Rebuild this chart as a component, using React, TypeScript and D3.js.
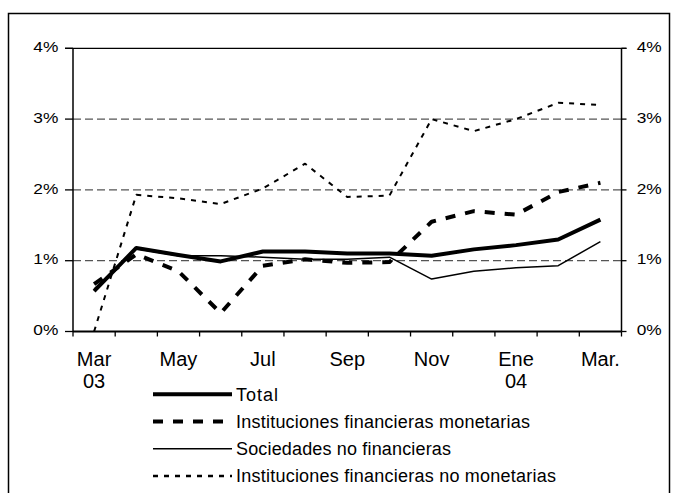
import React from 'react';
import * as d3 from 'd3';

// months, March 2003 to March 2004
const months = ['Mar03', 'Abr03', 'May03', 'Jun03', 'Jul03', 'Ago03', 'Sep03', 'Oct03', 'Nov03', 'Dic03', 'Ene04', 'Feb04', 'Mar04'];
const labelTop = ['Mar', '', 'May', '', 'Jul', '', 'Sep', '', 'Nov', '', 'Ene', '', 'Mar.'];
const labelBottom = ['03', '', '', '', '', '', '', '', '', '', '04', '', ''];

const total = [0.57, 1.18, 1.08, 0.99, 1.13, 1.13, 1.1, 1.1, 1.07, 1.16, 1.22, 1.3, 1.58];
const monetarias = [0.67, 1.09, 0.85, 0.26, 0.93, 1.02, 0.97, 0.98, 1.55, 1.7, 1.65, 1.97, 2.1];
const sociedades = [0.6, 1.17, 1.07, 1.07, 1.05, 1.02, 1.02, 1.05, 0.74, 0.85, 0.9, 0.93, 1.27];
const noMonetarias = [0.0, 1.93, 1.88, 1.8, 2.02, 2.37, 1.9, 1.92, 3.0, 2.83, 3.0, 3.23, 3.2];

const yTicks = [0, 1, 2, 3, 4];
const gridTicks = [1, 2, 3];

const seriesNames = [
  'Total',
  'Instituciones financieras monetarias',
  'Sociedades no financieras',
  'Instituciones financieras no monetarias',
];

const font = '"Liberation Sans", Arial, sans-serif';

export default function App() {
  const left = 73;
  const right = 621.5;
  const top = 48.3;
  const bottom = 331.5;

  const x = d3.scaleBand<string>().domain(months).range([left, right]).padding(0);
  const y = d3.scaleLinear().domain([0, 4]).range([bottom, top]);
  const cx = (i: number) => (x(months[i]) as number) + x.bandwidth() / 2;

  const line = d3
    .line<number>()
    .x((_, i) => cx(i))
    .y((d) => y(d));

  const series = [
    { values: total, width: 4, dash: undefined as string | undefined, textLen: 42 },
    { values: monetarias, width: 4, dash: '10,10', textLen: 294 },
    { values: sociedades, width: 1.5, dash: undefined as string | undefined, textLen: 215 },
    { values: noMonetarias, width: 2, dash: '5,6', textLen: 320 },
  ];

  const legendY = [394.3, 421.5, 448.8, 476];

  return (
    <svg width={673} height={493} style={{ position: 'absolute', left: 0, top: 0, background: '#fff' }} fontFamily={font}>
      <rect x={8.5} y={13.5} width={661} height={500} fill="none" stroke="#000" strokeWidth={1.5} />

      {/* gridlines */}
      {gridTicks.map((t) => (
        <line key={'g' + t} x1={left} x2={right} y1={y(t)} y2={y(t)} stroke="#555" strokeWidth={1.3} strokeDasharray="8,4" />
      ))}
      <line x1={left - 8} x2={right + 5} y1={y(4)} y2={y(4)} stroke="#000" strokeWidth={1.3} />

      {/* y axes */}
      <line x1={left} x2={left} y1={top} y2={bottom} stroke="#000" strokeWidth={1.5} />
      <line x1={right} x2={right} y1={top} y2={bottom} stroke="#000" strokeWidth={1.5} />
      {yTicks.map((t) => (
        <g key={'y' + t}>
          <line x1={left - 8} x2={left} y1={y(t)} y2={y(t)} stroke="#000" strokeWidth={1.3} />
          <line x1={right} x2={right + 5} y1={y(t)} y2={y(t)} stroke="#000" strokeWidth={1.3} />
          <text x={58.3} y={y(t) + 3.6} fontSize={14} textAnchor="end" textLength={25} lengthAdjust="spacingAndGlyphs">
            {t + '%'}
          </text>
          <text x={636.7} y={y(t) + 3.6} fontSize={14} textLength={25} lengthAdjust="spacingAndGlyphs">
            {t + '%'}
          </text>
        </g>
      ))}

      {/* x axis */}
      <line x1={left} x2={right} y1={bottom} y2={bottom} stroke="#000" strokeWidth={2} />
      {months.map((m, i) => (
        <line key={'xt' + m} x1={x(m) as number} x2={x(m) as number} y1={bottom} y2={bottom + 5} stroke="#000" strokeWidth={1.3} />
      ))}
      <line x1={right} x2={right} y1={bottom} y2={bottom + 5} stroke="#000" strokeWidth={1.3} />
      {months.map((m, i) => (
        <g key={'xl' + m}>
          {labelTop[i] && (
            <text x={cx(i)} y={366} fontSize={20} textAnchor="middle">
              {labelTop[i]}
            </text>
          )}
          {labelBottom[i] && (
            <text x={cx(i)} y={388} fontSize={20} textAnchor="middle">
              {labelBottom[i]}
            </text>
          )}
        </g>
      ))}

      {/* series */}
      {series.map((s, i) => (
        <path
          key={'s' + i}
          d={line(s.values) as string}
          fill="none"
          stroke="#000"
          strokeWidth={s.width}
          strokeDasharray={s.dash}
          strokeLinejoin="round"
        />
      ))}

      {/* legend */}
      {series.map((s, i) => (
        <g key={'l' + i}>
          <line
            x1={153}
            x2={232}
            y1={legendY[i]}
            y2={legendY[i]}
            stroke="#000"
            strokeWidth={s.width === 2 ? 2.3 : s.width}
            strokeDasharray={s.dash}
          />
          <text x={236} y={legendY[i] + 6.3} fontSize={18} textLength={s.textLen} lengthAdjust="spacing">
            {seriesNames[i]}
          </text>
        </g>
      ))}
    </svg>
  );
}
